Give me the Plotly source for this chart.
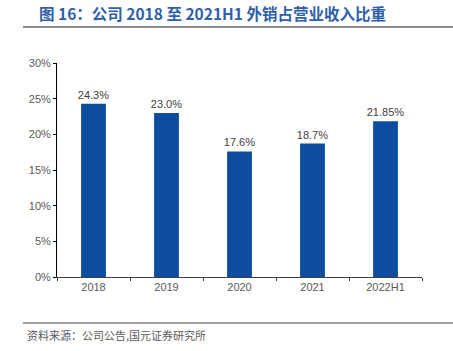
import plotly.graph_objects as go

categories = ["2018", "2019", "2020", "2021", "2022H1"]
values = [24.3, 23.0, 17.6, 18.7, 21.85]
labels = ["24.3%", "23.0%", "17.6%", "18.7%", "21.85%"]
y_ticks = [0, 5, 10, 15, 20, 25, 30]
y_tick_text = ["0%", "5%", "10%", "15%", "20%", "25%", "30%"]

title_text = "图 16：公司 2018 至 2021H1 外销占营业收入比重"
source_text = "资料来源：公司公告,国元证券研究所"

fig = go.Figure()
fig.add_trace(go.Bar(
    x=categories, y=values, text=labels, textposition="outside",
    constraintext="none",
    textfont=dict(family="Liberation Sans, Arial", size=11, color="#404040"),
    marker=dict(color="#0D4C9F", line=dict(width=0)),
    cliponaxis=False,
))

fig.update_layout(
    width=453, height=351,
    margin=dict(l=57, r=31, t=63, b=74),
    paper_bgcolor="white", plot_bgcolor="white",
    bargap=0.66, showlegend=False,
    font=dict(family="Liberation Sans, Arial", size=11, color="#595959"),
    xaxis=dict(
        type="category", showline=True, linecolor="#404040", linewidth=1,
        ticks="outside", ticklen=3, tickcolor="#404040", tickson="boundaries",
        showgrid=False, tickfont=dict(size=11, color="#595959"),
    ),
    yaxis=dict(
        range=[0, 30], tickvals=y_ticks, ticktext=y_tick_text,
        showline=True, linecolor="#000000", linewidth=1,
        ticks="outside", ticklen=3, tickcolor="#000000",
        showgrid=False, zeroline=False, tickfont=dict(size=11, color="#595959"),
    ),
    shapes=[
        dict(type="line", xref="paper", yref="paper", x0=-34/365, x1=396/365,
             y0=1 + 36/214, y1=1 + 36/214, line=dict(color="#8C8C8C", width=2)),
        dict(type="line", xref="paper", yref="paper", x0=-34/365, x1=396/365,
             y0=-46/214, y1=-46/214, line=dict(color="#404040", width=1)),
    ],
    annotations=[
        dict(text="<b>" + title_text + "</b>", xref="paper", yref="paper",
             x=-20/365, y=1 + 50/214, xanchor="left", yanchor="middle", showarrow=False,
             font=dict(family="Noto Sans CJK SC", size=15.5, color="#2E5FA8")),
        dict(text=source_text, xref="paper", yref="paper",
             x=-32/365, y=-58/214, xanchor="left", yanchor="middle", showarrow=False,
             font=dict(family="Noto Sans CJK SC", size=11, color="#595959")),
    ],
)

fig.write_html("out.html")
